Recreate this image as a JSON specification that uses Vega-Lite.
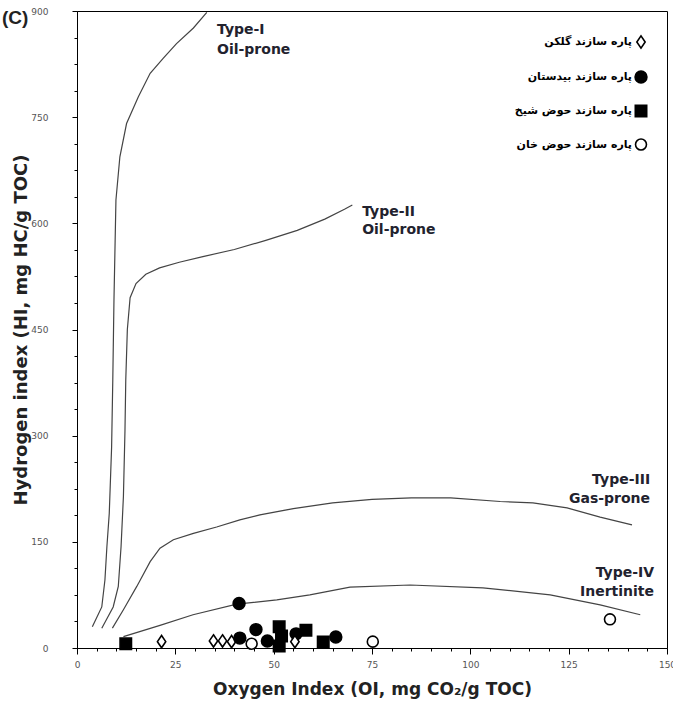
{
  "$schema": "https://vega.github.io/schema/vega-lite/v6.json",
  "autosize": {"type": "none"},
  "width": 590,
  "height": 637,
  "padding": {"left": 77, "top": 11, "right": 6, "bottom": 56},
  "background": "white",
  "title": {"text": "(C)", "anchor": "start", "frame": "group", "orient": "top", "dx": -75, "offset": -21, "fontSize": 19, "font": "Liberation Sans", "fontWeight": "bold", "color": "#222222"},
  "config": {
    "view": {"stroke": "black", "strokeWidth": 1},
    "axis": {"grid": false, "domainColor": "black", "tickColor": "black", "labelFont": "DejaVu Sans", "labelFontSize": 9, "labelColor": "#555555", "titleFont": "DejaVu Sans", "titleFontWeight": "bold", "titleColor": "#222222", "labelOverlap": false, "labelFlush": false},
    "legend": {"symbolStrokeWidth": 1.6}
  },
  "datasets": {
    "curves": [
      {"curve": "I", "idx": 1, "oi": 3.9, "hi": 30},
      {"curve": "I", "idx": 2, "oi": 6.3, "hi": 58},
      {"curve": "I", "idx": 3, "oi": 7.1, "hi": 96},
      {"curve": "I", "idx": 4, "oi": 7.6, "hi": 143},
      {"curve": "I", "idx": 5, "oi": 8.2, "hi": 190},
      {"curve": "I", "idx": 6, "oi": 8.8, "hi": 284},
      {"curve": "I", "idx": 7, "oi": 9.1, "hi": 379},
      {"curve": "I", "idx": 8, "oi": 9.4, "hi": 492},
      {"curve": "I", "idx": 9, "oi": 9.9, "hi": 633},
      {"curve": "I", "idx": 10, "oi": 10.9, "hi": 694},
      {"curve": "I", "idx": 11, "oi": 12.6, "hi": 741},
      {"curve": "I", "idx": 12, "oi": 15.6, "hi": 779},
      {"curve": "I", "idx": 13, "oi": 18.6, "hi": 812},
      {"curve": "I", "idx": 14, "oi": 21.9, "hi": 833},
      {"curve": "I", "idx": 15, "oi": 25.3, "hi": 854},
      {"curve": "I", "idx": 16, "oi": 29.6, "hi": 876},
      {"curve": "I", "idx": 17, "oi": 33.0, "hi": 898},
      {"curve": "II", "idx": 1, "oi": 6.3, "hi": 28},
      {"curve": "II", "idx": 2, "oi": 9.2, "hi": 58},
      {"curve": "II", "idx": 3, "oi": 10.5, "hi": 87},
      {"curve": "II", "idx": 4, "oi": 11.2, "hi": 143},
      {"curve": "II", "idx": 5, "oi": 11.8, "hi": 214},
      {"curve": "II", "idx": 6, "oi": 12.2, "hi": 308},
      {"curve": "II", "idx": 7, "oi": 12.4, "hi": 379},
      {"curve": "II", "idx": 8, "oi": 12.8, "hi": 450},
      {"curve": "II", "idx": 9, "oi": 13.5, "hi": 495},
      {"curve": "II", "idx": 10, "oi": 15, "hi": 515},
      {"curve": "II", "idx": 11, "oi": 17.5, "hi": 528},
      {"curve": "II", "idx": 12, "oi": 21, "hi": 537},
      {"curve": "II", "idx": 13, "oi": 26, "hi": 545},
      {"curve": "II", "idx": 14, "oi": 32, "hi": 553},
      {"curve": "II", "idx": 15, "oi": 40, "hi": 563},
      {"curve": "II", "idx": 16, "oi": 48, "hi": 576},
      {"curve": "II", "idx": 17, "oi": 56, "hi": 590},
      {"curve": "II", "idx": 18, "oi": 63, "hi": 606},
      {"curve": "II", "idx": 19, "oi": 68, "hi": 620},
      {"curve": "II", "idx": 20, "oi": 70, "hi": 626},
      {"curve": "III", "idx": 1, "oi": 9.0, "hi": 28},
      {"curve": "III", "idx": 2, "oi": 11.8, "hi": 54},
      {"curve": "III", "idx": 3, "oi": 15.2, "hi": 87},
      {"curve": "III", "idx": 4, "oi": 18.6, "hi": 122},
      {"curve": "III", "idx": 5, "oi": 21.1, "hi": 141},
      {"curve": "III", "idx": 6, "oi": 24.5, "hi": 153},
      {"curve": "III", "idx": 7, "oi": 29.6, "hi": 162},
      {"curve": "III", "idx": 8, "oi": 35.5, "hi": 171},
      {"curve": "III", "idx": 9, "oi": 41.4, "hi": 181},
      {"curve": "III", "idx": 10, "oi": 46.5, "hi": 188},
      {"curve": "III", "idx": 11, "oi": 55, "hi": 197},
      {"curve": "III", "idx": 12, "oi": 65, "hi": 205},
      {"curve": "III", "idx": 13, "oi": 75, "hi": 210},
      {"curve": "III", "idx": 14, "oi": 85, "hi": 212},
      {"curve": "III", "idx": 15, "oi": 95, "hi": 212},
      {"curve": "III", "idx": 16, "oi": 107.6, "hi": 207},
      {"curve": "III", "idx": 17, "oi": 115.9, "hi": 205},
      {"curve": "III", "idx": 18, "oi": 124.6, "hi": 198},
      {"curve": "III", "idx": 19, "oi": 133.0, "hi": 185},
      {"curve": "III", "idx": 20, "oi": 141.1, "hi": 174},
      {"curve": "IV", "idx": 1, "oi": 11.8, "hi": 16},
      {"curve": "IV", "idx": 2, "oi": 21.1, "hi": 32},
      {"curve": "IV", "idx": 3, "oi": 29.5, "hi": 47},
      {"curve": "IV", "idx": 4, "oi": 40.6, "hi": 62},
      {"curve": "IV", "idx": 5, "oi": 50.8, "hi": 68},
      {"curve": "IV", "idx": 6, "oi": 59.2, "hi": 75},
      {"curve": "IV", "idx": 7, "oi": 69.4, "hi": 86},
      {"curve": "IV", "idx": 8, "oi": 84.7, "hi": 89},
      {"curve": "IV", "idx": 9, "oi": 103.2, "hi": 85},
      {"curve": "IV", "idx": 10, "oi": 120.3, "hi": 75},
      {"curve": "IV", "idx": 11, "oi": 133.0, "hi": 61},
      {"curve": "IV", "idx": 12, "oi": 143.2, "hi": 47}
    ],
    "samples": [
      {"formation": "پاره سازند حوض شیخ", "oi": 12.4, "hi": 6},
      {"formation": "پاره سازند گلکن", "oi": 21.5, "hi": 9},
      {"formation": "پاره سازند گلکن", "oi": 34.7, "hi": 10},
      {"formation": "پاره سازند گلکن", "oi": 37.0, "hi": 10},
      {"formation": "پاره سازند گلکن", "oi": 39.3, "hi": 9},
      {"formation": "پاره سازند بیدستان", "oi": 41.2, "hi": 63},
      {"formation": "پاره سازند بیدستان", "oi": 41.4, "hi": 14},
      {"formation": "پاره سازند بیدستان", "oi": 45.5, "hi": 26},
      {"formation": "پاره سازند حوض خان", "oi": 44.4, "hi": 6},
      {"formation": "پاره سازند بیدستان", "oi": 48.4, "hi": 10},
      {"formation": "پاره سازند حوض شیخ", "oi": 51.4, "hi": 30},
      {"formation": "پاره سازند حوض شیخ", "oi": 52.0, "hi": 17},
      {"formation": "پاره سازند حوض شیخ", "oi": 51.4, "hi": 3},
      {"formation": "پاره سازند بیدستان", "oi": 55.7, "hi": 20},
      {"formation": "پاره سازند گلکن", "oi": 55.4, "hi": 9},
      {"formation": "پاره سازند حوض شیخ", "oi": 58.2, "hi": 25},
      {"formation": "پاره سازند حوض شیخ", "oi": 62.6, "hi": 8.5},
      {"formation": "پاره سازند بیدستان", "oi": 65.8, "hi": 15.5},
      {"formation": "پاره سازند حوض خان", "oi": 75.2, "hi": 9},
      {"formation": "پاره سازند حوض خان", "oi": 135.5, "hi": 40.5}
    ],
    "labels": [
      {"type": "I", "line": "Type-I", "oi": 35.6, "hi": 873},
      {"type": "I", "line": "Oil-prone", "oi": 35.6, "hi": 845},
      {"type": "II", "line": "Type-II", "oi": 72.5, "hi": 616},
      {"type": "II", "line": "Oil-prone", "oi": 72.5, "hi": 591},
      {"type": "III", "line": "Type-III", "oi": 145.7, "hi": 237},
      {"type": "III", "line": "Gas-prone", "oi": 145.7, "hi": 210},
      {"type": "IV", "line": "Type-IV", "oi": 146.7, "hi": 106},
      {"type": "IV", "line": "Inertinite", "oi": 146.7, "hi": 79}
    ]
  },
  "encoding": {
    "x": {"field": "oi", "type": "quantitative", "scale": {"domain": [0, 150], "nice": false, "zero": false},
      "axis": {"title": "Oxygen Index (OI, mg CO₂/g TOC)", "titleFontSize": 17, "values": [0,5,10,15,20,25,30,35,40,45,50,55,60,65,70,75,80,85,90,95,100,105,110,115,120,125,130,135,140,145,150],
        "labelExpr": "datum.value % 25 === 0 ? datum.label : ''",
        "tickSize": {"condition": {"test": "datum.value % 25 === 0", "value": 6}, "value": 3},
        "labelPadding": 6, "titlePadding": 12}},
    "y": {"field": "hi", "type": "quantitative", "scale": {"domain": [0, 900], "nice": false},
      "axis": {"title": "Hydrogen index (HI, mg HC/g TOC)", "titleFontSize": 18, "values": [0,37.5,75,112.5,150,187.5,225,262.5,300,337.5,375,412.5,450,487.5,525,562.5,600,637.5,675,712.5,750,787.5,825,862.5,900],
        "labelExpr": "datum.value % 150 === 0 ? datum.label : ''",
        "tickSize": {"condition": {"test": "datum.value % 150 === 0", "value": 5}, "value": 3},
        "labelPadding": 24, "titlePadding": 0}}
  },
  "layer": [
    {
      "data": {"name": "curves"},
      "mark": {"type": "line", "color": "#444444", "strokeWidth": 1.2},
      "encoding": {"detail": {"field": "curve"}, "order": {"field": "idx", "type": "quantitative"}}
    },
    {
      "data": {"name": "samples"},
      "mark": {"type": "point", "strokeWidth": 1.6, "opacity": 1},
      "encoding": {
        "stroke": {"field": "formation", "type": "nominal",
          "scale": {"domain": ["پاره سازند گلکن", "پاره سازند بیدستان", "پاره سازند حوض شیخ", "پاره سازند حوض خان"], "range": ["black", "black", "black", "black"]},
          "legend": {"title": null, "orient": "none", "legendX": 557, "legendY": 24, "padding": 0, "labelAlign": "right", "labelOffset": -16, "labelFont": "DejaVu Sans", "labelFontWeight": "bold", "labelFontSize": 11, "labelColor": "black", "rowPadding": 15}},
        "shape": {"field": "formation", "type": "nominal",
          "scale": {"domain": ["پاره سازند گلکن", "پاره سازند بیدستان", "پاره سازند حوض شیخ", "پاره سازند حوض خان"], "range": ["M0,-1L0.68,0L0,1L-0.68,0Z", "circle", "square", "circle"]},
          "legend": {"title": null, "orient": "none", "legendX": 557, "legendY": 24, "padding": 0, "labelAlign": "right", "labelOffset": -16, "labelFont": "DejaVu Sans", "labelFontWeight": "bold", "labelFontSize": 11, "labelColor": "black", "rowPadding": 15}},
        "fill": {"field": "formation", "type": "nominal",
          "scale": {"domain": ["پاره سازند گلکن", "پاره سازند بیدستان", "پاره سازند حوض شیخ", "پاره سازند حوض خان"], "range": ["white", "black", "black", "white"]},
          "legend": {"title": null, "orient": "none", "legendX": 557, "legendY": 24, "padding": 0, "labelAlign": "right", "labelOffset": -16, "labelFont": "DejaVu Sans", "labelFontWeight": "bold", "labelFontSize": 11, "labelColor": "black", "rowPadding": 15}},
        "size": {"field": "formation", "type": "nominal",
          "scale": {"domain": ["پاره سازند گلکن", "پاره سازند بیدستان", "پاره سازند حوض شیخ", "پاره سازند حوض خان"], "range": [150, 120, 64, 110]},
          "legend": {"title": null, "orient": "none", "legendX": 557, "legendY": 24, "padding": 0, "labelAlign": "right", "labelOffset": -16, "labelFont": "DejaVu Sans", "labelFontWeight": "bold", "labelFontSize": 11, "labelColor": "black", "rowPadding": 15}}
      }
    },
    {
      "data": {"name": "labels"},
      "transform": [{"filter": "datum.type === 'I' || datum.type === 'II'"}],
      "mark": {"type": "text", "align": "left", "baseline": "middle", "font": "DejaVu Sans", "fontWeight": "bold", "fontSize": 14, "color": "#22222e"},
      "encoding": {"text": {"field": "line"}}
    },
    {
      "data": {"name": "labels"},
      "transform": [{"filter": "datum.type === 'III' || datum.type === 'IV'"}],
      "mark": {"type": "text", "align": "right", "baseline": "middle", "font": "DejaVu Sans", "fontWeight": "bold", "fontSize": 14, "color": "#22222e"},
      "encoding": {"text": {"field": "line"}}
    }
  ]
}
